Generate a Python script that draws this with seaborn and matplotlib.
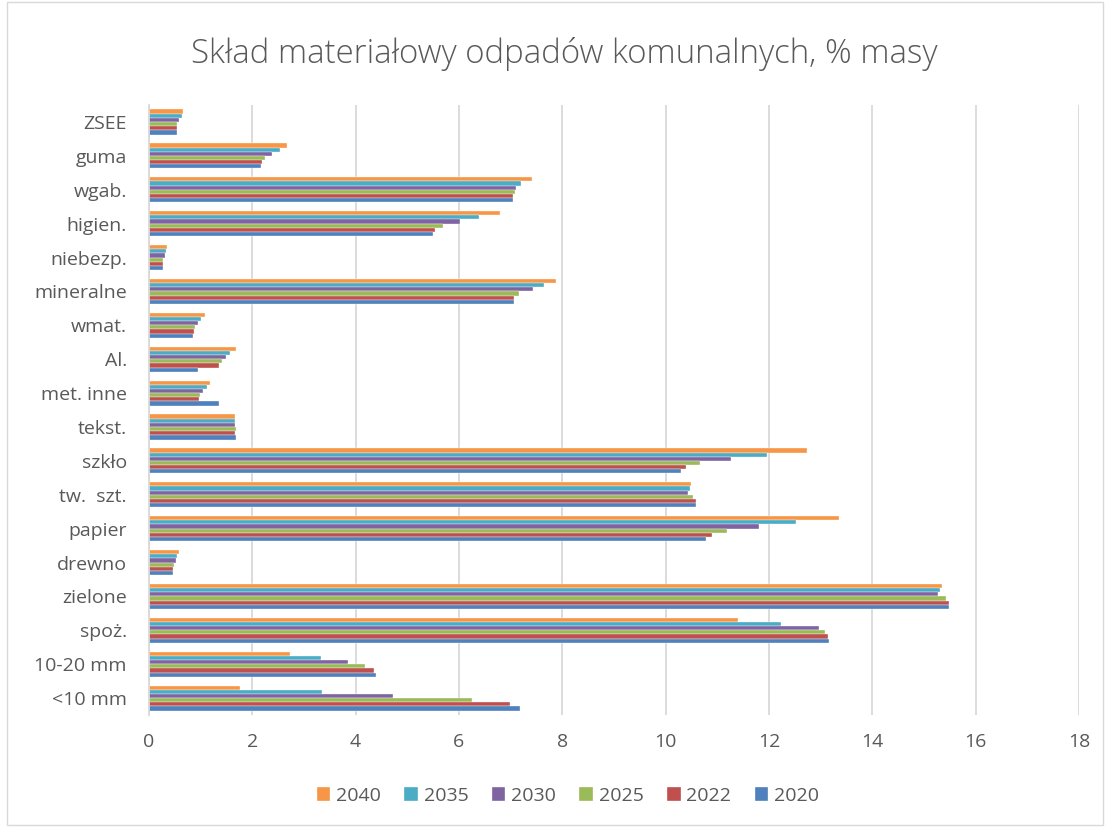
import pandas as pd
import matplotlib.pyplot as plt
import seaborn as sns
from matplotlib.patches import Rectangle

# categories top to bottom
categories = ["ZSEE", "guma", "wgab.", "higien.", "niebezp.", "mineralne", "wmat.",
              "Al.", "met. inne", "tekst.", "szkło", "tw.  szt.", "papier", "drewno",
              "zielone", "spoż.", "10-20 mm", "<10 mm"]

years = ["2040", "2035", "2030", "2025", "2022", "2020"]

v2040 = [0.66, 2.68, 7.41, 6.80, 0.34, 7.88, 1.08, 1.68, 1.18, 1.66, 12.74, 10.49, 13.35, 0.58, 15.34, 11.40, 2.73, 1.77]
v2035 = [0.63, 2.53, 7.20, 6.39, 0.32, 7.65, 1.00, 1.57, 1.12, 1.66, 11.97, 10.47, 12.53, 0.55, 15.31, 12.24, 3.32, 3.35]
v2030 = [0.59, 2.38, 7.10, 6.01, 0.30, 7.44, 0.94, 1.49, 1.04, 1.66, 11.27, 10.44, 11.81, 0.52, 15.28, 12.97, 3.85, 4.72]
v2025 = [0.55, 2.25, 7.08, 5.69, 0.28, 7.17, 0.89, 1.41, 0.99, 1.68, 10.67, 10.53, 11.18, 0.48, 15.42, 13.08, 4.18, 6.26]
v2022 = [0.55, 2.19, 7.04, 5.54, 0.27, 7.06, 0.87, 1.36, 0.97, 1.66, 10.39, 10.58, 10.90, 0.46, 15.48, 13.14, 4.35, 6.98]
v2020 = [0.54, 2.17, 7.04, 5.49, 0.27, 7.06, 0.86, 0.95, 1.35, 1.68, 10.29, 10.59, 10.78, 0.46, 15.49, 13.16, 4.40, 7.19]

colors = ["#F79646", "#4BACC6", "#8064A2", "#9BBB59", "#C0504D", "#4F81BD"]

series = [v2040, v2035, v2030, v2025, v2022, v2020]
rows = []
for y, vals in zip(years, series):
    for c, v in zip(categories, vals):
        rows.append({"kategoria": c, "rok": y, "wartosc": v})
df = pd.DataFrame(rows)

sns.set_style("white")
plt.rcParams['font.family'] = ['Open Sans', 'DejaVu Sans']

fig = plt.figure(figsize=(11.07, 8.27), dpi=100)
ax = fig.add_axes([0.1346, 0.1354, 0.8401, 0.7376])

sns.barplot(data=df, y="kategoria", x="wartosc", hue="rok", order=categories,
            hue_order=years, palette=colors, orient="h", width=0.74,
            edgecolor="white", linewidth=0.25, saturation=1, ax=ax)

ax.set_xlim(0, 18)
ax.set_ylim(17.5, -0.5)
ax.set_xticks(range(0, 19, 2))
ax.grid(axis="x", color="#D9D9D9", linewidth=1.3)
ax.set_axisbelow(True)
for s in ["top", "right", "bottom"]:
    ax.spines[s].set_visible(False)
ax.spines["left"].set_color("#D9D9D9")
ax.spines["left"].set_linewidth(1.3)
ax.set_xlabel("")
ax.set_ylabel("")
ax.tick_params(axis="both", length=0, labelsize=14, labelcolor="#595959")
ax.tick_params(axis="x", pad=13)
ax.tick_params(axis="y", pad=16)

ax.legend_.remove()
handles, labels = ax.get_legend_handles_labels()
fig.legend(handles, labels, loc="center", bbox_to_anchor=(0.513, 0.038), ncol=6,
           frameon=False, fontsize=14, labelcolor="#595959",
           handlelength=0.7, handleheight=0.7, handletextpad=0.3, columnspacing=1.2)

fig.suptitle("Skład materiałowy odpadów komunalnych, % masy", x=0.51, y=0.955,
             fontsize=23.8, color="#595959", fontweight="light")

fig.patches.append(Rectangle((0.006, 0.002), 0.99, 0.996, transform=fig.transFigure,
                             fill=False, edgecolor="#D9D9D9", linewidth=1))

fig.savefig("out.png", dpi=100)
